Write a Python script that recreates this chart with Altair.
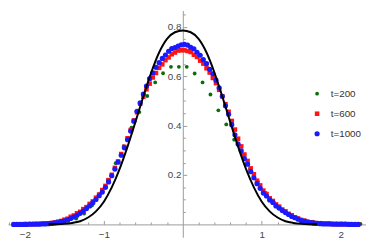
import altair as alt
import pandas as pd

series_names = ["t=200", "t=600", "t=1000"]
series_colors = ["#0b6e0b", "#ff1414", "#1a1aff"]
series_shapes = ["circle", "square", "circle"]
series_sizes = [15, 28, 20]

# t=200 (bin width 0.1)
green_x = [-2.15, -2.05, -1.95, -1.85, -1.75, -1.65, -1.55, -1.45, -1.35, -1.25,
           -1.15, -1.05, -0.95, -0.85, -0.75, -0.65, -0.55, -0.45, -0.35, -0.25,
           -0.15, -0.05, 0.05, 0.15, 0.25, 0.35, 0.45, 0.55, 0.65, 0.75,
           0.85, 0.95, 1.05, 1.15, 1.25, 1.35, 1.45, 1.55, 1.65, 1.75,
           1.85, 1.95, 2.05, 2.15, 2.25]
green_y = [0.000, 0.001, 0.001, 0.002, 0.003, 0.005, 0.008, 0.014, 0.024, 0.044,
           0.077, 0.124, 0.181, 0.248, 0.317, 0.392, 0.455, 0.520, 0.575, 0.612,
           0.638, 0.638, 0.638, 0.611, 0.575, 0.526, 0.462, 0.405, 0.343, 0.284,
           0.225, 0.174, 0.128, 0.092, 0.062, 0.042, 0.026, 0.016, 0.011, 0.007,
           0.005, 0.004, 0.003, 0.002, 0.002]

# t=600 and t=1000 (finer bins)
fine_x_left = [-2.14, -2.10, -2.06, -2.02, -1.98, -1.94, -1.90, -1.86, -1.82, -1.78,
               -1.74, -1.70, -1.66, -1.62, -1.58, -1.54, -1.50, -1.46, -1.42, -1.38,
               -1.34, -1.30, -1.26, -1.22, -1.18, -1.14, -1.10, -1.06, -1.02, -0.98,
               -0.94, -0.90, -0.86, -0.82, -0.78, -0.74, -0.70, -0.66, -0.62, -0.58,
               -0.54, -0.50, -0.46, -0.42, -0.38, -0.34, -0.30, -0.26, -0.22, -0.18,
               -0.14, -0.10, -0.06, -0.02]
fine_x_right = [0.02, 0.06, 0.10, 0.14, 0.18, 0.22, 0.26, 0.30, 0.34, 0.38,
                0.42, 0.46, 0.50, 0.54, 0.58, 0.62, 0.66, 0.70, 0.74, 0.78,
                0.82, 0.86, 0.90, 0.94, 0.98, 1.02, 1.06, 1.10, 1.14, 1.18,
                1.22, 1.26, 1.30, 1.34, 1.38, 1.42, 1.46, 1.50, 1.54, 1.58,
                1.62, 1.66, 1.70, 1.74, 1.78, 1.82, 1.86, 1.90, 1.94, 1.98,
                2.02, 2.06, 2.10, 2.14, 2.18, 2.22]

red_left = [0.000, 0.000, 0.000, 0.000, 0.001, 0.001, 0.001, 0.002, 0.002, 0.003,
            0.004, 0.004, 0.006, 0.008, 0.011, 0.014, 0.019, 0.023, 0.031, 0.036,
            0.045, 0.051, 0.062, 0.070, 0.083, 0.093, 0.108, 0.121, 0.139, 0.156,
            0.179, 0.201, 0.229, 0.255, 0.285, 0.314, 0.349, 0.382, 0.421, 0.454,
            0.489, 0.517, 0.547, 0.570, 0.595, 0.613, 0.634, 0.648, 0.665, 0.676,
            0.689, 0.696, 0.704, 0.705]
red_right = [0.706, 0.702, 0.698, 0.687, 0.678, 0.663, 0.651, 0.632, 0.615, 0.593,
             0.572, 0.545, 0.519, 0.487, 0.456, 0.419, 0.384, 0.347, 0.316, 0.283,
             0.257, 0.227, 0.203, 0.177, 0.158, 0.137, 0.123, 0.106, 0.095, 0.081,
             0.072, 0.060, 0.053, 0.043, 0.037, 0.029, 0.024, 0.018, 0.015, 0.011,
             0.008, 0.006, 0.005, 0.004, 0.003, 0.003, 0.002, 0.002, 0.001, 0.001,
             0.001, 0.001, 0.001, 0.000, 0.000, 0.000]

blue_left = [0.000, 0.000, 0.000, 0.000, 0.000, 0.001, 0.001, 0.001, 0.001, 0.002,
             0.002, 0.003, 0.004, 0.006, 0.008, 0.011, 0.014, 0.019, 0.024, 0.030,
             0.037, 0.045, 0.054, 0.064, 0.075, 0.088, 0.101, 0.116, 0.131, 0.150,
             0.172, 0.197, 0.224, 0.252, 0.280, 0.310, 0.343, 0.378, 0.418, 0.458,
             0.492, 0.528, 0.560, 0.590, 0.614, 0.636, 0.655, 0.672, 0.686, 0.701,
             0.712, 0.716, 0.722, 0.727]
blue_right = [0.729, 0.726, 0.717, 0.711, 0.697, 0.685, 0.667, 0.651, 0.628, 0.610,
              0.584, 0.553, 0.519, 0.480, 0.446, 0.404, 0.363, 0.326, 0.298, 0.267,
              0.244, 0.214, 0.189, 0.165, 0.146, 0.127, 0.115, 0.099, 0.089, 0.075,
              0.066, 0.056, 0.048, 0.040, 0.032, 0.027, 0.021, 0.016, 0.012, 0.009,
              0.007, 0.005, 0.004, 0.003, 0.002, 0.002, 0.002, 0.001, 0.001, 0.001,
              0.001, 0.001, 0.000, 0.000, 0.000, 0.000]

# limiting curve
curve_x = [-1.7, -1.6, -1.5, -1.4, -1.3, -1.2, -1.1, -1.0, -0.9, -0.8, -0.7, -0.6, -0.5,
           -0.4, -0.3, -0.2, -0.1, 0.0, 0.1, 0.2, 0.3, 0.4, 0.5, 0.6, 0.7, 0.8,
           0.9, 1.0, 1.1, 1.2, 1.3, 1.4, 1.5, 1.6, 1.7]
curve_y = [0.0004, 0.001, 0.0025, 0.006, 0.013, 0.028, 0.053, 0.092, 0.150, 0.225,
           0.315, 0.415, 0.518, 0.615, 0.696, 0.751, 0.778, 0.785, 0.778, 0.751,
           0.696, 0.615, 0.518, 0.415, 0.315, 0.225, 0.150, 0.092, 0.053, 0.028,
           0.013, 0.006, 0.0025, 0.001, 0.0004]

x_tick_values = [-2.2, -2.0, -1.8, -1.6, -1.4, -1.2, -1.0, -0.8, -0.6, -0.4, -0.2,
                 0.2, 0.4, 0.6, 0.8, 1.0, 1.2, 1.4, 1.6, 1.8, 2.0, 2.2]
y_tick_values = [0.05, 0.1, 0.15, 0.2, 0.25, 0.3, 0.35, 0.4, 0.45, 0.5, 0.55, 0.6,
                 0.65, 0.7, 0.75, 0.8, 0.85]

assert len(green_x) == len(green_y)
assert len(fine_x_left) == len(red_left) == len(blue_left)
assert len(fine_x_right) == len(red_right) == len(blue_right)
assert len(curve_x) == len(curve_y)

rows = []
for x, y in zip(green_x, green_y):
    rows.append({"x": x, "y": y, "series": "t=200"})
for x, y in zip(fine_x_left + fine_x_right, red_left + red_right):
    rows.append({"x": x, "y": y, "series": "t=600"})
for x, y in zip(fine_x_left + fine_x_right, blue_left + blue_right):
    rows.append({"x": x, "y": y, "series": "t=1000"})
pts = pd.DataFrame(rows)
curve = pd.DataFrame({"x": curve_x, "y": curve_y})

PX_PER_Y = 252.5
W = 366
X_DOMAIN = [-2.214, 2.32]
Y_DOMAIN = [-0.052, 0.866]
H = (Y_DOMAIN[1] - Y_DOMAIN[0]) * PX_PER_Y
x_zero_px = (0 - X_DOMAIN[0]) / (X_DOMAIN[1] - X_DOMAIN[0]) * W
y_zero_from_top = Y_DOMAIN[1] * PX_PER_Y

axis_gray = "#9a9a9a"
label_gray = "#444444"
font = "Liberation Sans"

x_major = "abs(datum.value - round(datum.value)) < 0.001"
y_major = "abs(datum.value * 5 - round(datum.value * 5)) < 0.001"

x_axis = alt.Axis(
    orient="top", offset=-y_zero_from_top, values=x_tick_values, grid=False, title=None,
    domainColor=axis_gray, domainWidth=1, tickColor=axis_gray, tickWidth=1,
    tickSize={"condition": {"test": x_major, "value": 4}, "value": 2.5},
    format=".0f", labelExpr=x_major + " ? datum.label : ''",
    labelPadding=-9, labelBaseline="top", labelFont=font, labelFontSize=10,
    labelColor=label_gray, labelFlush=False, labelOverlap=False,
)
y_axis = alt.Axis(
    orient="right", offset=-(W - x_zero_px), values=y_tick_values, grid=False, title=None,
    domainColor=axis_gray, domainWidth=1, tickColor=axis_gray, tickWidth=1,
    tickSize={"condition": {"test": y_major, "value": 4}, "value": 2.5},
    format=".1f", labelExpr=y_major + " ? datum.label : ''",
    labelPadding=-6, labelAlign="right", labelBaseline="middle", labelFont=font,
    labelFontSize=10, labelColor=label_gray, labelFlush=False, labelOverlap=False,
)

xs = alt.Scale(domain=X_DOMAIN, nice=False, zero=False)
ys = alt.Scale(domain=Y_DOMAIN, nice=False, zero=False)

legend = alt.Legend(
    orient="none", legendX=311, legendY=80, title=None, padding=0, offset=0,
    labelFont=font, labelFontSize=10, labelColor="#333333", rowPadding=10.5,
    labelOffset=9, symbolStrokeWidth=0,
)

points = alt.Chart(pts).mark_point(filled=True, opacity=1, strokeWidth=0).encode(
    x=alt.X("x:Q", scale=xs, axis=x_axis),
    y=alt.Y("y:Q", scale=ys, axis=y_axis),
    color=alt.Color("series:N", scale=alt.Scale(domain=series_names, range=series_colors), legend=legend),
    shape=alt.Shape("series:N", scale=alt.Scale(domain=series_names, range=series_shapes), legend=legend),
    size=alt.Size("series:N", scale=alt.Scale(domain=series_names, range=series_sizes), legend=legend),
)

line = alt.Chart(curve).mark_line(color="black", strokeWidth=2, interpolate="monotone").encode(
    x=alt.X("x:Q", scale=xs, axis=x_axis),
    y=alt.Y("y:Q", scale=ys, axis=y_axis),
)

chart = alt.layer(points, line).properties(
    width=W, height=H,
    autosize=alt.AutoSizeParams(type="none"),
    padding=0,
    background="white",
).configure_view(stroke=None)

chart.save("out.html", embed_options={"renderer": "svg", "actions": False})
